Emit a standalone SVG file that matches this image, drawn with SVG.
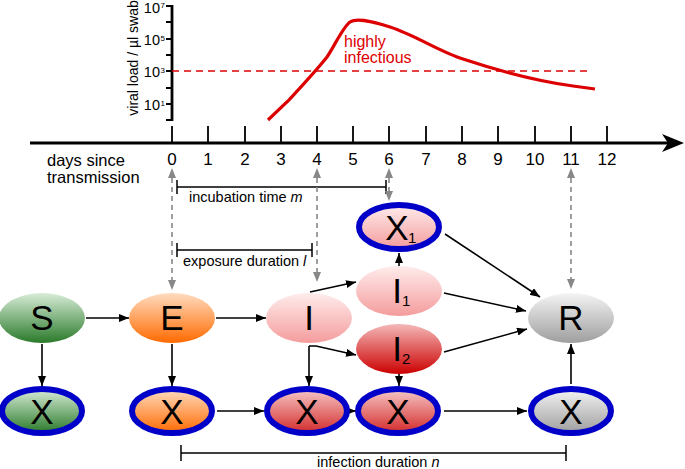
<svg xmlns="http://www.w3.org/2000/svg" width="685" height="469" viewBox="0 0 685 469">
<defs>
<linearGradient id="gG" x1="0" y1="0" x2="0" y2="1"><stop offset="0" stop-color="#d8ecd8"/><stop offset="1" stop-color="#2a7a2a"/></linearGradient>
<linearGradient id="gO" x1="0" y1="0" x2="0" y2="1"><stop offset="0" stop-color="#ffdcc0"/><stop offset="1" stop-color="#ff6a00"/></linearGradient>
<linearGradient id="gP" x1="0" y1="0" x2="0" y2="1"><stop offset="0" stop-color="#ffecec"/><stop offset="1" stop-color="#f49c9c"/></linearGradient>
<linearGradient id="gR" x1="0" y1="0" x2="0" y2="1"><stop offset="0" stop-color="#f4b8b8"/><stop offset="1" stop-color="#cc0000"/></linearGradient>
<linearGradient id="gRx" x1="0" y1="0" x2="0" y2="1"><stop offset="0" stop-color="#f6c8c8"/><stop offset="1" stop-color="#d42a2a"/></linearGradient>
<linearGradient id="gY" x1="0" y1="0" x2="0" y2="1"><stop offset="0" stop-color="#f4f4f4"/><stop offset="1" stop-color="#9e9e9e"/></linearGradient>
<marker id="ab" markerUnits="userSpaceOnUse" markerWidth="10" markerHeight="8" refX="10" refY="4" orient="auto"><path d="M0,0 L10,4 L0,8 z" fill="#000"/></marker>
</defs>
<style>
.t{font-family:"Liberation Sans",Arial,sans-serif;fill:#000}
.n{font-size:35px;text-anchor:middle}
.sub{font-size:15px}
.tk{font-size:17px;text-anchor:middle}
.yl{font-size:14.5px;text-anchor:end}
.sp{font-size:8px}
.lb{font-size:14.5px}
.c{fill:none;stroke:#000;stroke-width:1.6;marker-end:url(#ab)}
.ax{stroke:#000;stroke-width:1.8;fill:none}
.gd{stroke:#888;stroke-width:1.6;stroke-dasharray:5,4;fill:none}
.ga{fill:#888}
.xb{stroke:#0000c8;stroke-width:6}
.br{stroke:#000;stroke-width:1.5;fill:none}
</style>

<g id="viral-load-chart">
<line x1="172" y1="5" x2="172" y2="121" stroke="#000" stroke-width="2.8"/>
<path class="ax" d="M166,6H172M166,22H172M166,39H172M166,55H172M166,71H172M166,88H172M166,104H172M166,120H172"/>
<text class="t yl" x="160" y="12.5">10</text><text class="t sp" x="160.5" y="8">7</text>
<text class="t yl" x="160" y="45">10</text><text class="t sp" x="160.5" y="40.5">5</text>
<text class="t yl" x="160" y="77">10</text><text class="t sp" x="160.5" y="72.5">3</text>
<text class="t yl" x="160" y="110">10</text><text class="t sp" x="160.5" y="105.5">1</text>
<text class="t" font-size="14" text-anchor="middle" transform="translate(138,58) rotate(-90)">viral load / µl swab</text>
<line x1="172" y1="71" x2="591" y2="71" stroke="#dd0000" stroke-width="1.6" stroke-dasharray="7,5"/>
<path d="M268,120 L288,101 C300,88 315,72 327,57 C335,45 343,27 350,22 C356,18 368,20 390,27 C415,35 440,52 463,59 C490,68 530,80 573,86 L595,89" fill="none" stroke="#dd0000" stroke-width="3.2"/>
<text class="t" font-size="16" x="344" y="47" style="fill:#dd0000">highly</text>
<text class="t" font-size="16" x="344" y="63" style="fill:#dd0000">infectious</text>
</g>

<g id="time-axis">
<line x1="30" y1="143" x2="670" y2="143" stroke="#000" stroke-width="3"/>
<polygon points="662,134 684,143 662,152 668,143" fill="#000"/>
<path class="ax" d="M172,126V143M208,126V143M245,126V143M281,126V143M317,126V143M353,126V143M389,126V143M426,126V143M462,126V143M498,126V143M535,126V143M571,126V143M607,126V143"/>
<text class="t tk" x="172" y="165">0</text>
<text class="t tk" x="208" y="165">1</text>
<text class="t tk" x="245" y="165">2</text>
<text class="t tk" x="281" y="165">3</text>
<text class="t tk" x="317" y="165">4</text>
<text class="t tk" x="353" y="165">5</text>
<text class="t tk" x="389" y="165">6</text>
<text class="t tk" x="426" y="165">7</text>
<text class="t tk" x="462" y="165">8</text>
<text class="t tk" x="498" y="165">9</text>
<text class="t tk" x="535" y="165">10</text>
<text class="t tk" x="571" y="165">11</text>
<text class="t tk" x="607" y="165">12</text>
<text class="t" font-size="16.5" x="47" y="166">days since</text>
<text class="t" font-size="16.5" x="47" y="183">transmission</text>
</g>

<g id="durations">
<path class="br" d="M177,180V194M177,187H386M386,180V194"/>
<text class="t lb" x="189" y="202">incubation time <tspan font-style="italic">m</tspan></text>
<path class="br" d="M177,243V257M177,250H312M312,243V257"/>
<text class="t lb" x="183" y="266">exposure duration <tspan font-style="italic">l</tspan></text>
<path class="br" d="M181,445V461M181,453H566M566,445V461"/>
<text class="t lb" x="317" y="467">infection duration <tspan font-style="italic">n</tspan></text>
</g>

<g id="time-links">
<path class="gd" d="M172,178V281"/><polygon class="ga" points="172,168 176,178 168,178"/><polygon class="ga" points="172,290 176,280 168,280"/>
<path class="gd" d="M317,178V273"/><polygon class="ga" points="317,168 321,178 313,178"/><polygon class="ga" points="317,282 321,272 313,272"/>
<path class="gd" d="M389,178V192"/><polygon class="ga" points="389,168 393,178 385,178"/><polygon class="ga" points="389,201 393,191 385,191"/>
<path class="gd" d="M571,178V280"/><polygon class="ga" points="571,168 575,178 567,178"/><polygon class="ga" points="571,289 575,279 567,279"/>
</g>

<g id="connectors">
<path class="c" d="M86,318 L129,318"/>
<path class="c" d="M216,318 L266,318"/>
<path class="c" d="M42,344 L42,386"/>
<path class="c" d="M172,344 L172,386"/>
<path class="c" d="M217,411 L264,411"/>
<path class="c" d="M349,411 L356,411"/>
<path class="c" d="M310,292 L356,282"/>
<path class="c" d="M309,346 L316,346 L356,355"/>
<path class="c" d="M309,346 L309,386"/>
<path class="c" d="M399,266 L399,253"/>
<path class="c" d="M399,373 L399,386"/>
<path class="c" d="M445,234 L540,297"/>
<path class="c" d="M444,293 L526,311"/>
<path class="c" d="M444,352 L527,329"/>
<path class="c" d="M444,411 L527,411"/>
<path class="c" d="M571,384 L571,344"/>
</g>

<g id="S"><ellipse cx="42" cy="318" rx="43" ry="25" fill="url(#gG)"/><text class="t n" x="42" y="330">S</text></g>
<g id="E"><ellipse cx="172" cy="318" rx="43" ry="25" fill="url(#gO)"/><text class="t n" x="172" y="330">E</text></g>
<g id="I"><ellipse cx="309" cy="318" rx="43" ry="25" fill="url(#gP)"/><text class="t n" x="309" y="330">I</text></g>
<g id="I1"><ellipse cx="399" cy="291" rx="43" ry="25" fill="url(#gP)"/><text class="t n" x="397" y="303">I</text><text class="t sub" x="402" y="306">1</text></g>
<g id="I2"><ellipse cx="399" cy="349" rx="43" ry="25" fill="url(#gR)"/><text class="t n" x="397" y="361">I</text><text class="t sub" x="402" y="364">2</text></g>
<g id="R"><ellipse cx="571" cy="318" rx="43" ry="25" fill="url(#gY)"/><text class="t n" x="571" y="330">R</text></g>
<g id="X1"><ellipse class="xb" cx="399" cy="227" rx="40" ry="22" fill="url(#gP)"/><text class="t n" x="397" y="240">X</text><text class="t sub" x="408" y="243">1</text></g>
<g id="XS"><ellipse class="xb" cx="42" cy="411" rx="40" ry="22" fill="url(#gG)"/><text class="t n" x="42" y="424">X</text></g>
<g id="XE"><ellipse class="xb" cx="172" cy="411" rx="40" ry="22" fill="url(#gO)"/><text class="t n" x="172" y="424">X</text></g>
<g id="XI"><ellipse class="xb" cx="307" cy="411" rx="40" ry="22" fill="url(#gRx)"/><text class="t n" x="307" y="424">X</text></g>
<g id="XI2"><ellipse class="xb" cx="398" cy="411" rx="40" ry="22" fill="url(#gRx)"/><text class="t n" x="398" y="424">X</text></g>
<g id="XR"><ellipse class="xb" cx="571" cy="411" rx="40" ry="22" fill="url(#gY)"/><text class="t n" x="571" y="424">X</text></g>
</svg>
